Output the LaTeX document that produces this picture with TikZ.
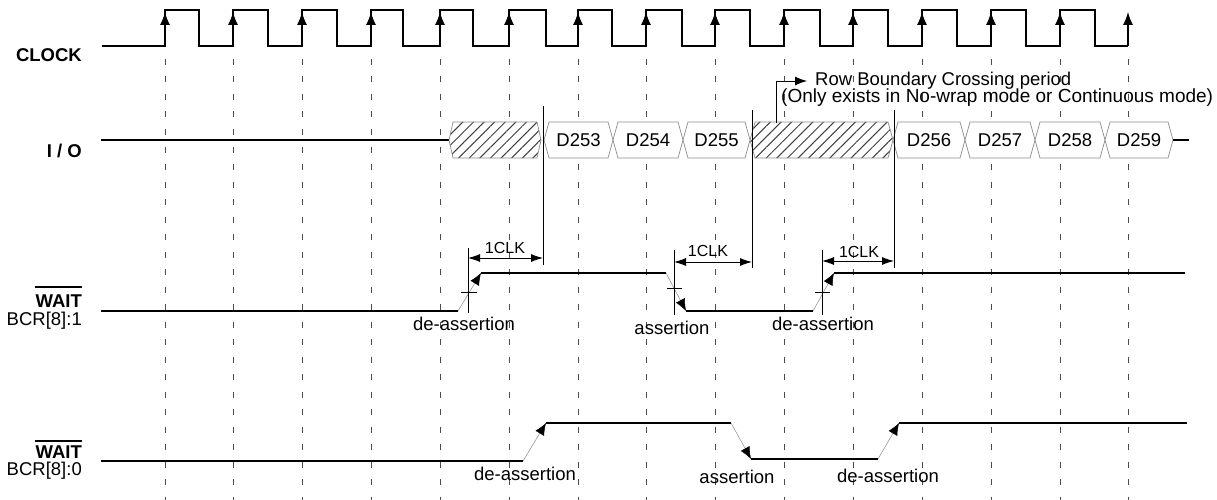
\documentclass[tikz,border=0pt]{standalone}
\usepackage{fontspec}
\setmainfont{Liberation Sans}
\usetikzlibrary{arrows.meta,patterns.meta}
\begin{document}
\begin{tikzpicture}[x=1pt,y=-1pt,
  every node/.style={font=\fontsize{18.5}{21}\selectfont, inner sep=0pt, text=black},
  sig/.style={line width=1.2pt, black},
  gridline/.style={line width=0.9pt, black!70, dash pattern=on 6pt off 11.5pt},
  edgearrow/.style={line width=1.2pt, -{Latex[length=13pt,width=10pt]}},
  ramp/.style={line width=0.5pt, black!45, -{Latex[length=12pt,width=10pt,color=black]}},
  busbox/.style={draw=black!45, line width=0.7pt, fill=white},
  hatchbox/.style={draw=black!45, line width=0.7pt, preaction={fill=white},
    pattern={Lines[angle=45,distance=7.5pt,line width=1pt]}, pattern color=black!75},
  marker/.style={line width=0.9pt, black},
  clkarrow/.style={line width=0.9pt, {Latex[length=12pt,width=8pt]}-{Latex[length=12pt,width=8pt]}},
  smalltxt/.style={font=\fontsize{16}{18}\selectfont},
  lbl/.style={anchor=east},
  boldlbl/.style={anchor=east, font=\fontsize{18.5}{21}\selectfont\bfseries},
  ]
\useasboundingbox (0,0) rectangle (1217,500);

% grid
\foreach \x in {165,233,302,371,440,509,578,646,715,784,853,922,991,1060,1128}
  \draw[gridline] (\x,59) -- (\x,500);

% labels
\node[boldlbl] (lclk) at (82,55) {CLOCK};
\node[boldlbl] (lio) at (82,151) {I / O};
\node[boldlbl] (lw1) at (82,301) {WAIT};
\draw[line width=1.2pt] (lw1.west |- 0,287) -- (lw1.east |- 0,287);
\node[lbl] (lb1) at (82,321) {BCR[8]:1};
\node[boldlbl] (lw2) at (82,452) {WAIT};
\draw[line width=1.2pt] (lw2.west |- 0,441) -- (lw2.east |- 0,441);
\node[lbl] (lb2) at (82,471) {BCR[8]:0};

% clock
\draw[sig] (102,46)
  foreach \r/\f in {165/199,233/268,302/337,371/403,440/473,509/546,578/612,646/682,715/750,784/820,853/888,922/957,991/1026,1060/1095}
  { -- (\r,46) -- (\r,10) -- (\f,10) -- (\f,46) } -- (1128,46);
\foreach \r in {165,233,302,371,440,509,578,646,715,784,853,922,991,1060,1128}
  \draw[edgearrow] (\r,46) -- (\r,12);

% I/O bus
\draw[sig] (101,140) -- (449,140);
\draw[hatchbox] (449,140) -- (453,122) -- (537,122) -- (541,140) -- (537,158) -- (453,158) -- cycle;
\draw[hatchbox] (750,140) -- (755,122) -- (888,122) -- (893,140) -- (888,158) -- (755,158) -- cycle;
\foreach \a/\b/\n/\t in {544/613/d253/D253,613/683/d254/D254,683/750/d255/D255,893/965/d256/D256,965/1035/d257/D257,1035/1105/d258/D258,1105/1173/d259/D259}
{
  \draw[busbox] (\a,140) -- (\a+5,122) -- (\b-5,122) -- (\b,140) -- (\b-5,158) -- (\a+5,158) -- cycle;
  \node (\n) at ({(\a+\b)/2},140) {\t};
}
\draw[sig] (1173,140) -- (1189,140);

% markers
\draw[marker] (543,106) -- (543,265);
\draw[marker] (752,110) -- (752,268);
\draw[marker] (894,110) -- (894,268);

% row boundary
\draw[marker, -{Latex[length=12pt,width=9pt]}] (776,123) -- (776,81) -- (807,81);
\node[anchor=west] (rbc) at (815,81) {Row Boundary Crossing period};
\node[anchor=west, font=\fontsize{19}{21}\selectfont] (rbc2) at (781,98) {(Only exists in No-wrap mode or Continuous mode)};

% WAIT BCR[8]:1
\draw[sig] (101,311) -- (458,311);
\draw[ramp] (458,311) -- (481,273);
\draw[sig] (481,273) -- (666,273);
\draw[ramp] (666,273) -- (686,311);
\draw[sig] (686,311) -- (813,311);
\draw[ramp] (813,311) -- (834,273);
\draw[sig] (834,273) -- (1185,273);

\draw[marker] (468,248) -- (468,313);
\draw[marker] (461,292) -- (477,292);
\draw[clkarrow] (468,258) -- (543,258);
\node[smalltxt] (c1) at (505,248) {1CLK};

\draw[marker] (674,250) -- (674,315);
\draw[marker] (667,288) -- (682,288);
\draw[clkarrow] (674,262) -- (752,262);
\node[smalltxt] (c2) at (708,251) {1CLK};

\draw[marker] (822,250) -- (822,315);
\draw[marker] (815,292) -- (830,292);
\draw[clkarrow] (822,261) -- (894,261);
\node[smalltxt] (c3) at (859,252) {1CLK};

\node (a1) at (464,324) {de-assertion};
\node (a2) at (672,328) {assertion};
\node (a3) at (823,324) {de-assertion};

% WAIT BCR[8]:0
\draw[sig] (101,461) -- (523,461);
\draw[ramp] (523,461) -- (546,423);
\draw[sig] (546,423) -- (731,423);
\draw[ramp] (731,423) -- (751,459);
\draw[sig] (751,459) -- (878,459);
\draw[ramp] (878,459) -- (899,423);
\draw[sig] (899,423) -- (1187,423);

\node (b1) at (525,474) {de-assertion};
\node (b2) at (737,477) {assertion};
\node (b3) at (888,476) {de-assertion};
\end{tikzpicture}
\end{document}
